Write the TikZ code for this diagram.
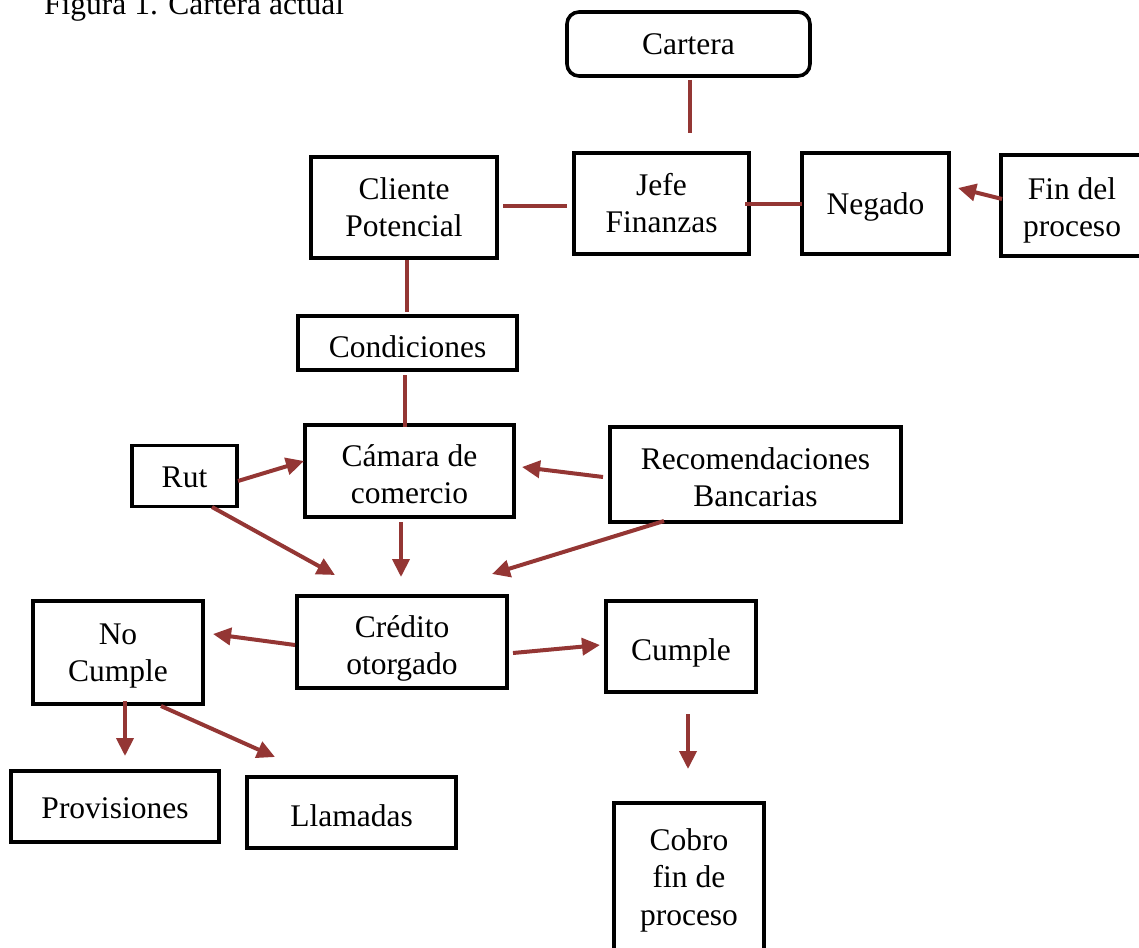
\documentclass[tikz,border=0pt]{standalone}
\usepackage{fontspec}
\setmainfont{Liberation Serif}
\usetikzlibrary{arrows.meta}
\definecolor{arr}{RGB}{148,54,52}
\newcommand\mltext[2]{\raisebox{0pt}[\dimexpr\height+#1\relax][\depth]{\begin{tabular}{@{}c@{}}#2\end{tabular}}}
\begin{document}
\begin{tikzpicture}[x=1pt,y=-1pt,
  frame/.style={draw=black,line width=3.6pt,inner sep=0pt,
    font=\fontsize{31.5}{37.5}\selectfont},
  box/.style={frame,
    execute at begin node={\rule[-8pt]{0pt}{#1}},
    execute at end node={\rule[-8pt]{0pt}{8pt}}},
  box/.default=38pt,
  mbox/.style={frame},
  link/.style={draw=arr,line width=4pt},
  arrow/.style={link,-{Triangle[length=18pt,width=17pt]}}]
\useasboundingbox (0,0) rectangle (1139,947);
\node[anchor=base west,font=\fontsize{31.5}{37.5}\selectfont,inner sep=0pt] (cap) at (44,15) {Figura 1. Cartera actual};
% boxes
\node[box,rounded corners=12pt,minimum width=243pt,minimum height=64pt] (cartera) at (688.5,44) {Cartera};
\node[mbox,minimum width=175pt,minimum height=101pt] (jefe) at (661.5,203.5) {\mltext{5.5pt}{Jefe\\Finanzas}};
\node[mbox,minimum width=186pt,minimum height=101pt] (cliente) at (404,207.5) {\mltext{5.5pt}{Cliente\\Potencial}};
\node[box,minimum width=147pt,minimum height=101pt] (negado) at (875.5,203.5) {Negado};
\node[mbox,minimum width=142pt,minimum height=101pt] (fin) at (1072,205.5) {\mltext{9.5pt}{Fin del\\proceso}};
\node[box=44pt,minimum width=219pt,minimum height=54pt] (cond) at (407.5,343) {Condiciones};
\node[mbox,minimum width=209pt,minimum height=92pt] (camara) at (409.5,471) {\mltext{12.5pt}{Cámara de\\comercio}};
\node[box,minimum width=105pt,minimum height=61pt] (rut) at (184.5,476) {Rut};
\node[mbox,minimum width=291pt,minimum height=95pt] (recom) at (755.5,474.5) {\mltext{11.5pt}{Recomendaciones\\Bancarias}};
\node[mbox,minimum width=210pt,minimum height=92pt] (credito) at (402,642) {\mltext{12.5pt}{Crédito\\otorgado}};
\node[mbox,minimum width=170pt,minimum height=103pt] (nocumple) at (118,652.5) {\mltext{5.5pt}{No\\Cumple}};
\node[box=44pt,minimum width=150pt,minimum height=91pt] (cumple) at (681,646.5) {Cumple};
\node[box=40pt,minimum width=208pt,minimum height=71pt] (prov) at (115,806.5) {Provisiones};
\node[box=44pt,minimum width=209pt,minimum height=71pt] (llam) at (351.5,812.5) {Llamadas};
\node[mbox,minimum width=150pt,minimum height=152pt] (cobro) at (689,879) {\mltext{2pt}{Cobro\\fin de\\proceso}};
% connector ends
\coordinate (c1) at (690,80); \coordinate (c2) at (690,133);
\coordinate (c3) at (503,206); \coordinate (c4) at (567,206);
\coordinate (c5) at (745,204); \coordinate (c6) at (802,204);
\coordinate (c7) at (407,260); \coordinate (c8) at (407,312);
\coordinate (c9) at (405,375); \coordinate (c10) at (405,427);
\coordinate (a1) at (1002,199); \coordinate (a2) at (958,188);
\coordinate (a3) at (238,481); \coordinate (a4) at (304,461);
\coordinate (a5) at (212,507); \coordinate (a6) at (335,575);
\coordinate (a7) at (401,522); \coordinate (a8) at (401,577);
\coordinate (a9) at (603,477); \coordinate (a10) at (522,467);
\coordinate (a11) at (664,521); \coordinate (a12) at (492,574);
\coordinate (a13) at (295,645); \coordinate (a14) at (213,634);
\coordinate (a15) at (513,653); \coordinate (a16) at (600,645);
\coordinate (a17) at (125,701); \coordinate (a18) at (125,756);
\coordinate (a19) at (161,706); \coordinate (a20) at (275,757);
\coordinate (a21) at (688,714); \coordinate (a22) at (688,769);
% lines
\draw[link] (c1) -- (c2);
\draw[link] (c3) -- (c4);
\draw[link] (c5) -- (c6);
\draw[link] (c7) -- (c8);
\draw[link] (c9) -- (c10);
% arrows
\draw[arrow] (a1) -- (a2);
\draw[arrow] (a3) -- (a4);
\draw[arrow] (a5) -- (a6);
\draw[arrow] (a7) -- (a8);
\draw[arrow] (a9) -- (a10);
\draw[arrow] (a11) -- (a12);
\draw[arrow] (a13) -- (a14);
\draw[arrow] (a15) -- (a16);
\draw[arrow] (a17) -- (a18);
\draw[arrow] (a19) -- (a20);
\draw[arrow] (a21) -- (a22);
\end{tikzpicture}
\end{document}
